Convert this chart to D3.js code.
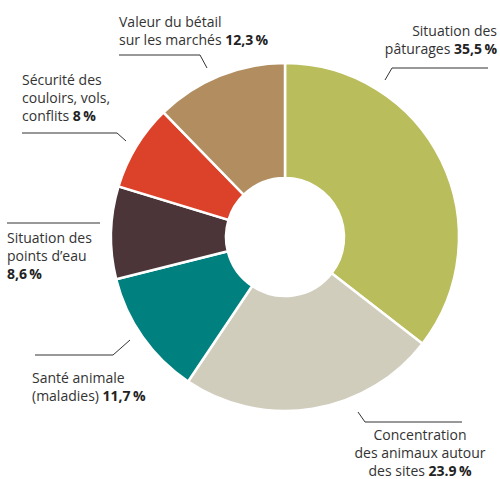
<!DOCTYPE html>
<html>
<head>
<meta charset="utf-8">
<style>
  body { margin: 0; background: #fff; }
  text { font-family: "Open Sans", "Noto Sans", sans-serif; font-size: 14px; fill: #333; }
  text .val { font-weight: bold; fill: #222; }
  path.leader { fill: none; stroke: #333; stroke-width: 1px; }
</style>
</head>
<body>
<script src="https://cdn.jsdelivr.net/npm/d3@7"></script>
<script>
// data, clockwise from 12 o'clock
var categories = ["Situation des pâturages", "Concentration des animaux autour des sites",
  "Santé animale (maladies)", "Situation des points d'eau",
  "Sécurité des couloirs, vols, conflits", "Valeur du bétail sur les marchés"];
var values = [35.5, 23.9, 11.7, 8.6, 8, 12.3];
var valueLabels = ["35,5\u2009%", "23.9\u2009%", "11,7\u2009%", "8,6\u2009%", "8\u2009%", "12,3\u2009%"];
var colors = ["#b9bd5b", "#d0cdbd", "#00807e", "#4b3538", "#dc4229", "#b18d5f"];

// label text lines; the value is appended to the last line
var labelLines = [
  ["Situation des", "pâturages "],
  ["Concentration", "des animaux autour", "des sites "],
  ["Santé animale", "(maladies) "],
  ["Situation des", "points d\u2019eau", ""],
  ["Sécurité des", "couloirs, vols,", "conflits "],
  ["Valeur du bétail", "sur les marchés "]
];
var labelPos = [
  { x: 497, y: 36, anchor: "end" },
  { x: 420, y: 440, anchor: "middle" },
  { x: 32, y: 383, anchor: "start" },
  { x: 7, y: 243, anchor: "start" },
  { x: 22, y: 85, anchor: "start" },
  { x: 119, y: 27, anchor: "start" }
];
// leader lines: [horizontal start, horizontal end, tip]
var leaders = [
  [[488, 68], [392, 68], [385, 80]],
  [[462, 422], [365, 422], [358, 412]],
  [[35, 355], [113, 355], [130, 340]],
  [[7, 223], [100, 223]],
  [[22, 133], [117, 133], [126, 141]],
  [[119, 55], [200, 55], [207, 68]]
];

var width = 500, height = 479;
var cx = 285, cy = 237, outerR = 174, innerR = 59;

var svg = d3.select("body").append("svg")
  .attr("width", width)
  .attr("height", height);

var pie = d3.pie().sort(null).value(function (d) { return d; });
var arc = d3.arc().innerRadius(innerR).outerRadius(outerR);

svg.append("g")
  .attr("transform", "translate(" + cx + "," + cy + ")")
  .selectAll("path")
  .data(pie(values))
  .enter().append("path")
  .attr("d", arc)
  .attr("fill", function (d, i) { return colors[i]; })
  .attr("stroke", "#fff")
  .attr("stroke-width", 2.5);

var line = d3.line();
svg.append("g").selectAll("path")
  .data(leaders)
  .enter().append("path")
  .attr("class", "leader")
  .attr("d", function (d) { return line(d); });

var lineH = 18;
labelLines.forEach(function (lines, i) {
  var p = labelPos[i];
  var t = svg.append("text")
    .attr("text-anchor", p.anchor);
  lines.forEach(function (s, j) {
    t.append("tspan")
      .attr("x", p.x)
      .attr("y", p.y + j * lineH)
      .text(s);
  });
  var last = t.selectAll("tspan").nodes().length - 1;
  if (lines[last] === "") {
    t.select("tspan:last-child").attr("class", "val").text(valueLabels[i]);
  } else {
    t.append("tspan").attr("class", "val").text(valueLabels[i]);
  }
});
</script>
</body>
</html>
